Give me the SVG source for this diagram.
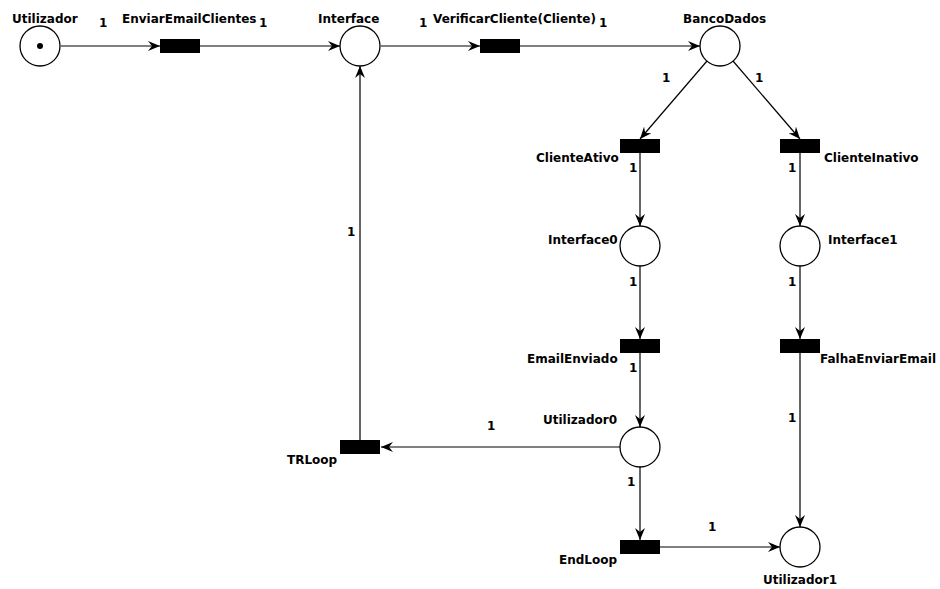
<svg xmlns="http://www.w3.org/2000/svg" width="940" height="589" viewBox="0 0 940 589">
  <style>
    .place { fill: #fff; stroke: #000; stroke-width: 1.3; }
    .trans { fill: #000; }
    .arc { fill: none; stroke: #000; stroke-width: 1.2; marker-end: url(#arrow); }
    text { font-family: "DejaVu Sans", "Liberation Sans", sans-serif; font-size: 12px; font-weight: bold; fill: #000; }
  </style>
  <defs>
    <marker id="arrow" viewBox="0 0 12 10" refX="12" refY="5" markerWidth="12" markerHeight="10" markerUnits="userSpaceOnUse" orient="auto">
      <path d="M0,0 L12,5 L0,10 L4,5 z" fill="#000"/>
    </marker>
  </defs>
  <rect width="940" height="589" fill="#fff"/>

  <!-- arcs -->
  <g id="connectors">
    <line class="arc" x1="61" y1="46" x2="160" y2="46"/>
    <line class="arc" x1="200" y1="46" x2="340" y2="46"/>
    <line class="arc" x1="381" y1="46" x2="480" y2="46"/>
    <line class="arc" x1="520" y1="46" x2="700" y2="46"/>
    <line class="arc" x1="707" y1="61" x2="640" y2="139"/>
    <line class="arc" x1="733" y1="61" x2="800" y2="139"/>
    <line class="arc" x1="640" y1="153" x2="640" y2="226"/>
    <line class="arc" x1="800" y1="153" x2="800" y2="226"/>
    <line class="arc" x1="640" y1="266" x2="640" y2="339"/>
    <line class="arc" x1="800" y1="266" x2="800" y2="339"/>
    <line class="arc" x1="640" y1="353" x2="640" y2="427"/>
    <line class="arc" x1="800" y1="353" x2="800" y2="527"/>
    <line class="arc" x1="620" y1="447" x2="381" y2="447"/>
    <line class="arc" x1="360" y1="440" x2="360" y2="66"/>
    <line class="arc" x1="640" y1="467" x2="640" y2="540"/>
    <line class="arc" x1="660" y1="547" x2="780" y2="547"/>
    <!-- arc weights -->
    <text x="99" y="27">1</text>
    <text x="259" y="27">1</text>
    <text x="419" y="27">1</text>
    <text x="599" y="27">1</text>
    <text x="662" y="82">1</text>
    <text x="755" y="82">1</text>
    <text x="629" y="172">1</text>
    <text x="788" y="172">1</text>
    <text x="629" y="286">1</text>
    <text x="788" y="286">1</text>
    <text x="629" y="372">1</text>
    <text x="788" y="422">1</text>
    <text x="487" y="430">1</text>
    <text x="347" y="236">1</text>
    <text x="627" y="486">1</text>
    <text x="708" y="531">1</text>
  </g>

  <!-- places -->
  <g id="Utilizador">
    <circle class="place" cx="40" cy="46" r="20"/>
    <circle cx="40" cy="46" r="3" fill="#000"/>
    <text x="12" y="23">Utilizador</text>
  </g>
  <g id="Interface">
    <circle class="place" cx="360" cy="46" r="20"/>
    <text x="318" y="23">Interface</text>
  </g>
  <g id="BancoDados">
    <circle class="place" cx="720" cy="46" r="20"/>
    <text x="683" y="23">BancoDados</text>
  </g>
  <g id="Interface0">
    <circle class="place" cx="640" cy="246" r="20"/>
    <text x="548" y="244">Interface0</text>
  </g>
  <g id="Interface1">
    <circle class="place" cx="800" cy="246" r="20"/>
    <text x="828" y="244">Interface1</text>
  </g>
  <g id="Utilizador0">
    <circle class="place" cx="640" cy="447" r="20"/>
    <text x="543" y="424">Utilizador0</text>
  </g>
  <g id="Utilizador1">
    <circle class="place" cx="800" cy="547" r="20"/>
    <text x="763" y="584">Utilizador1</text>
  </g>

  <!-- transitions -->
  <g id="EnviarEmailClientes">
    <rect class="trans" x="160" y="39" width="40" height="14"/>
    <text x="122" y="23">EnviarEmailClientes</text>
  </g>
  <g id="VerificarCliente">
    <rect class="trans" x="480" y="39" width="40" height="14"/>
    <text x="433" y="23">VerificarCliente(Cliente)</text>
  </g>
  <g id="ClienteAtivo">
    <rect class="trans" x="620" y="139" width="40" height="14"/>
    <text x="536" y="162">ClienteAtivo</text>
  </g>
  <g id="ClienteInativo">
    <rect class="trans" x="780" y="139" width="40" height="14"/>
    <text x="824" y="162">ClienteInativo</text>
  </g>
  <g id="EmailEnviado">
    <rect class="trans" x="620" y="339" width="40" height="14"/>
    <text x="527" y="363">EmailEnviado</text>
  </g>
  <g id="FalhaEnviarEmail">
    <rect class="trans" x="780" y="339" width="40" height="14"/>
    <text x="820" y="363">FalhaEnviarEmail</text>
  </g>
  <g id="TRLoop">
    <rect class="trans" x="340" y="440" width="40" height="14"/>
    <text x="287" y="464">TRLoop</text>
  </g>
  <g id="EndLoop">
    <rect class="trans" x="620" y="540" width="40" height="14"/>
    <text x="559" y="564">EndLoop</text>
  </g>
</svg>
